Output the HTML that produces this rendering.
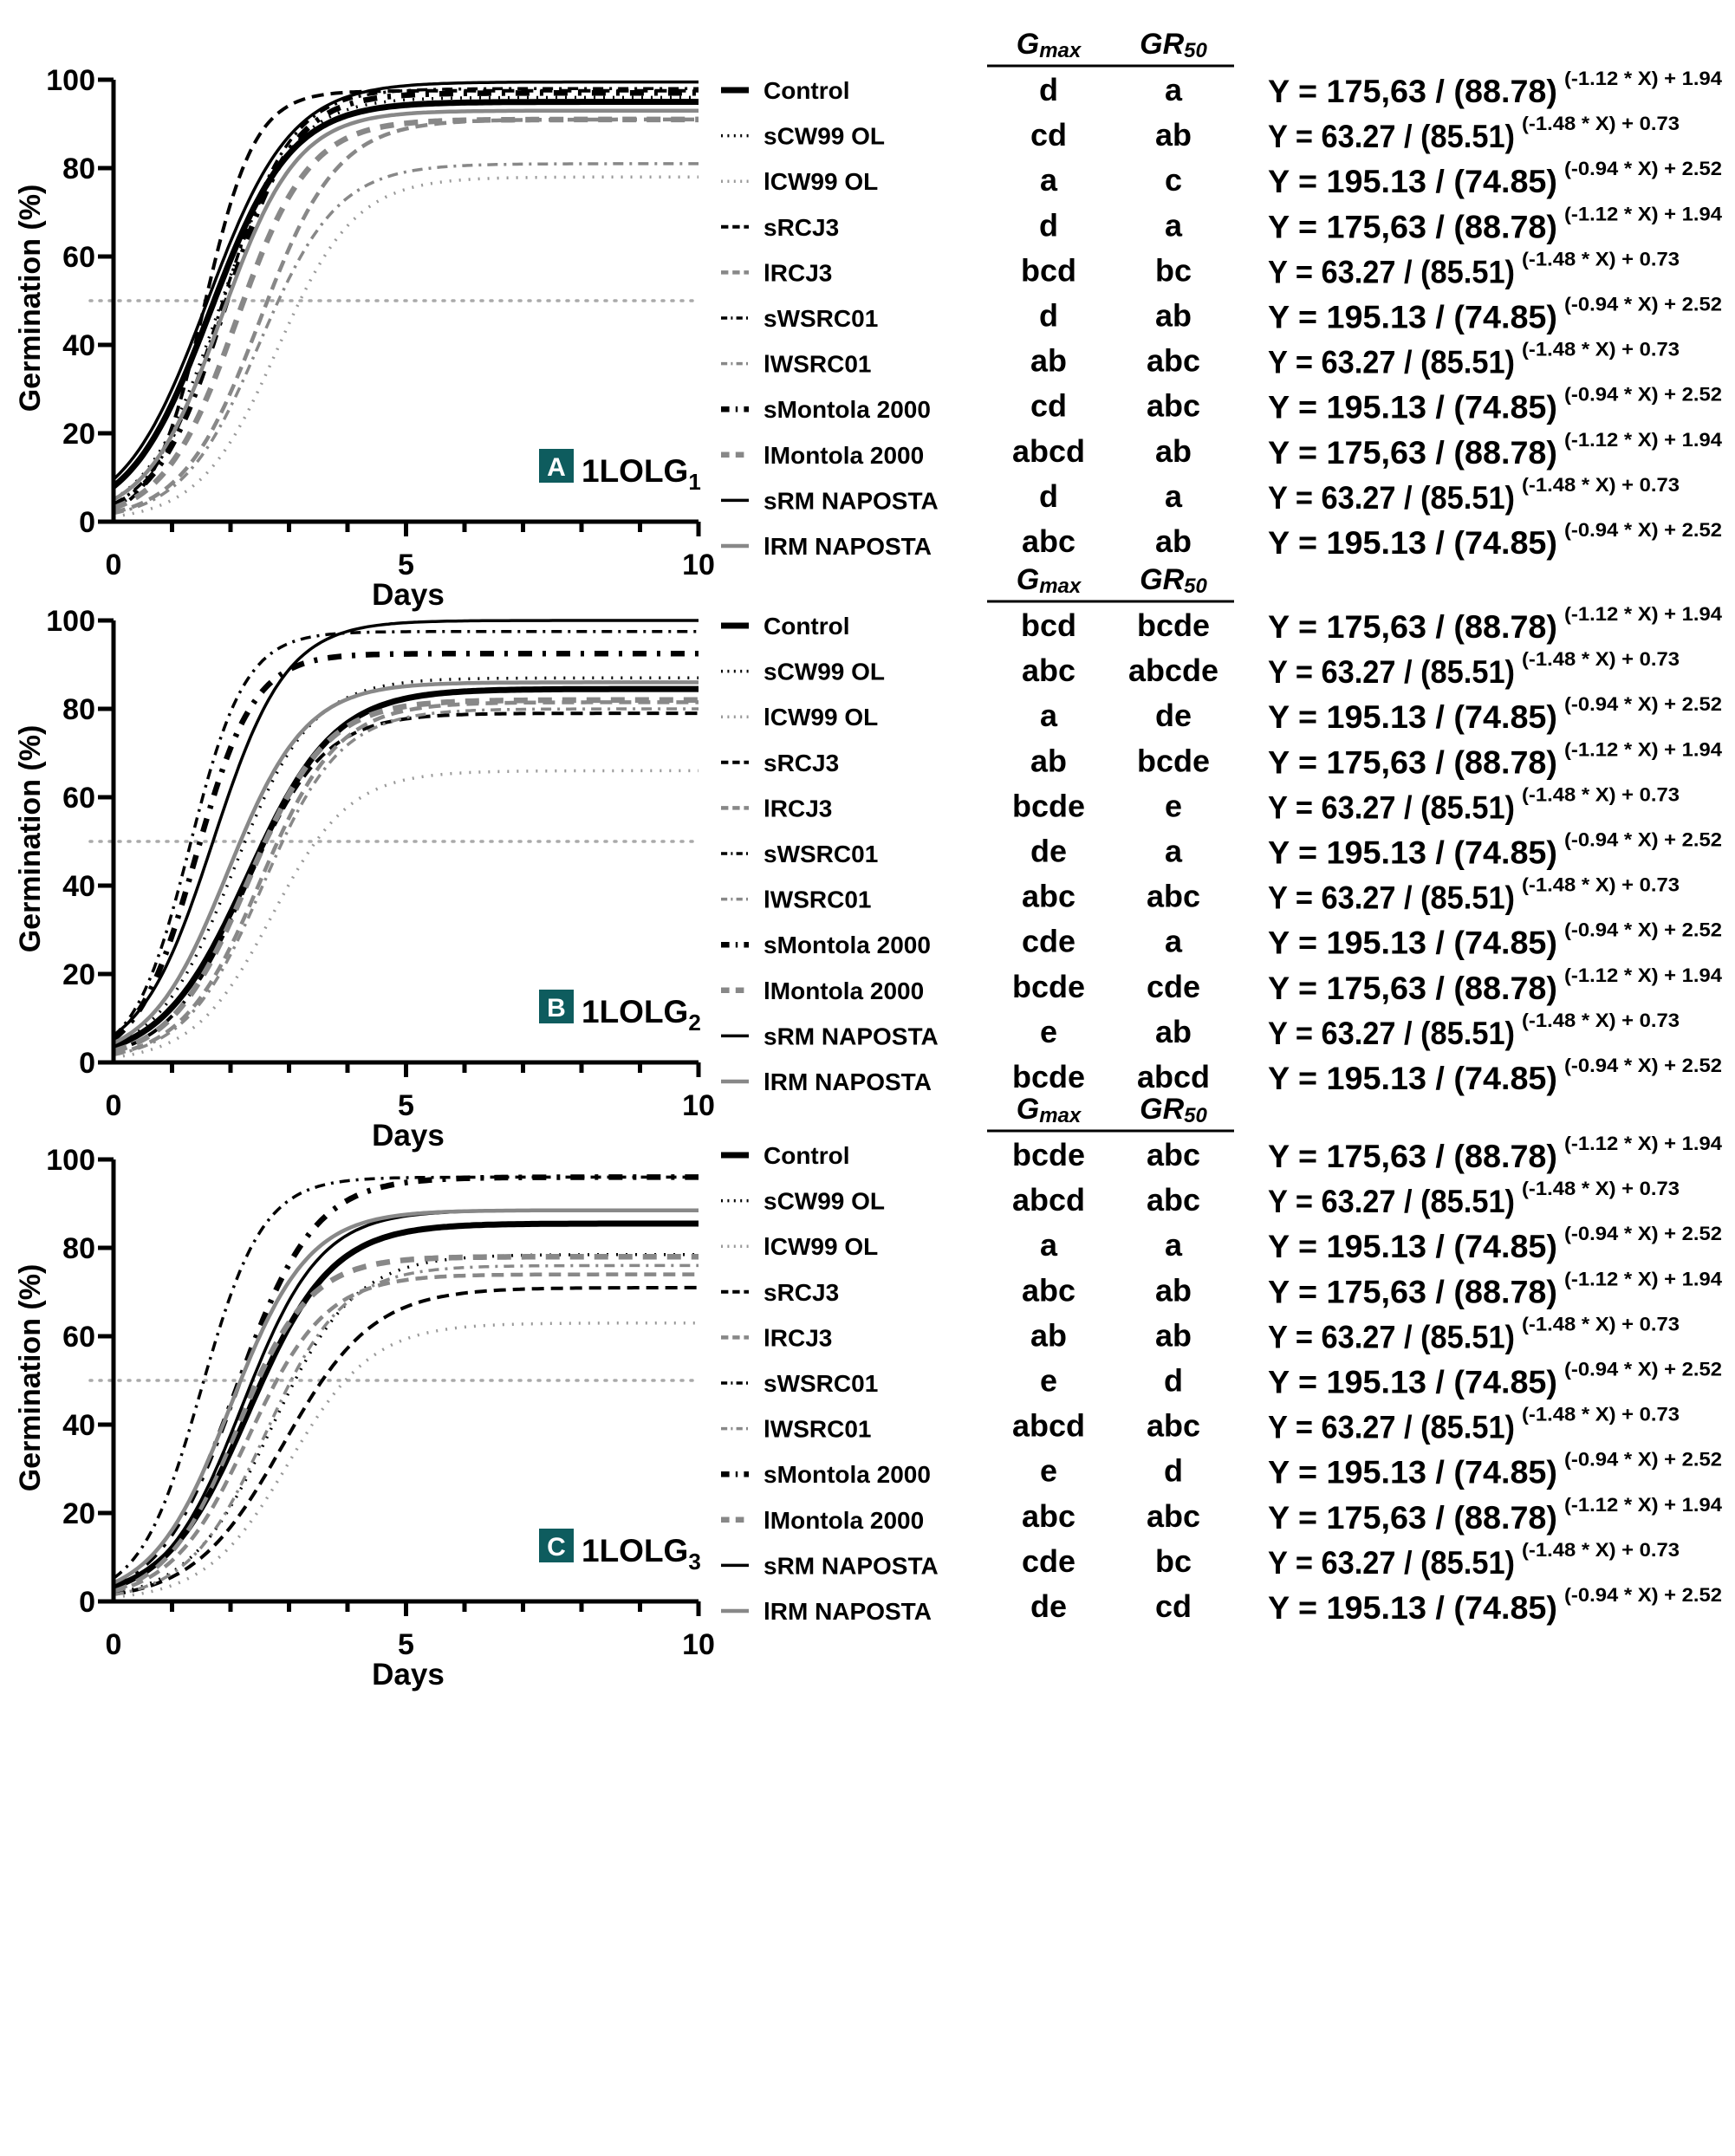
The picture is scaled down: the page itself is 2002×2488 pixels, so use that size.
<!DOCTYPE html>
<html><head><meta charset="utf-8"><style>
html,body{margin:0;padding:0;background:#fff}
svg{display:block}
text{font-family:"Liberation Sans Narrow","Liberation Sans",sans-serif;fill:#000}
</style></head><body>
<svg id="fig" width="2002" height="2488" viewBox="0 0 2002 2488" xmlns="http://www.w3.org/2000/svg"></svg>
<script>
const seriesNames = ["Control","sCW99 OL","lCW99 OL","sRCJ3","lRCJ3","sWSRC01","lWSRC01","sMontola 2000","lMontola 2000","sRM NAPOSTA","lRM NAPOSTA"];
const panelLetters = ["A","B","C"];
const panelSubs = ["1","2","3"];
const xTicks = [0,5,10];
const yTicks = [0,20,40,60,80,100];
// per-panel fitted curve parameters (Gmax %, t50 days, slope)
const gmaxA = [95,96,78,97.5,91,98,81,97,91,99.5,93];
const t50A  = [1.65,1.8,2.8,1.55,2.5,1.85,2.5,1.9,2.1,1.6,1.85];
const kA    = [1.45,1.6,1.5,2.3,1.5,1.7,1.5,1.7,1.6,1.4,1.55];
const gmaxB = [84.5,87,66,79,81.5,97.5,80,92.5,82,100,86];
const t50B  = [2.3,2.05,2.7,2.25,2.5,1.3,2.55,1.4,2.3,1.7,1.95];
const kB    = [1.35,1.5,1.5,1.5,1.5,2.1,1.5,2.0,1.5,1.6,1.5];
const gmaxC = [85.5,78.5,63,71,74,96,76,96,78,88.5,88.5];
const t50C  = [2.3,2.7,3.0,2.9,2.3,1.5,2.6,2.1,2.1,2.2,2.0];
const kC    = [1.4,1.4,1.4,1.3,1.5,1.9,1.5,1.5,1.6,1.5,1.5];
const gmaxLetA = ["d","cd","a","d","bcd","d","ab","cd","abcd","d","abc"];
const gr50LetA = ["a","ab","c","a","bc","ab","abc","abc","ab","a","ab"];
const gmaxLetB = ["bcd","abc","a","ab","bcde","de","abc","cde","bcde","e","bcde"];
const gr50LetB = ["bcde","abcde","de","bcde","e","a","abc","a","cde","ab","abcd"];
const gmaxLetC = ["bcde","abcd","a","abc","ab","e","abcd","e","abc","cde","de"];
const gr50LetC = ["abc","abc","a","ab","ab","d","abc","d","abc","bc","cd"];
const eqMain = ["Y = 175,63 / (88.78)","Y = 63.27 / (85.51)","Y = 195.13 / (74.85)"];
const eqSup = ["(-1.12 * X) + 1.94","(-1.48 * X) + 0.73","(-0.94 * X) + 2.52"];
const eqOrder = [0,1,2,0,1,2,1,2,0,1,2];

const styles = [
 {c:"#000",w:7,d:""},
 {c:"#000",w:3.5,d:"2 9"},
 {c:"#999",w:3.5,d:"2 9"},
 {c:"#000",w:4,d:"14 8"},
 {c:"#888",w:4.5,d:"14 8"},
 {c:"#000",w:3.5,d:"12 7 3 7"},
 {c:"#888",w:3.5,d:"12 7 3 7"},
 {c:"#000",w:6.5,d:"16 12 4 12"},
 {c:"#888",w:6.5,d:"16 12"},
 {c:"#000",w:3.5,d:""},
 {c:"#888",w:4.5,d:""}
];
const NS="http://www.w3.org/2000/svg";
const svg=document.getElementById("fig");
function mk(tag,attrs,parent){const e=document.createElementNS(NS,tag);for(const k in attrs)e.setAttribute(k,attrs[k]);(parent||svg).appendChild(e);return e;}

const panels=[
 {g:gmaxA,t:t50A,k:kA,gl:gmaxLetA,rl:gr50LetA,top:92,tab:104},
 {g:gmaxB,t:t50B,k:kB,gl:gmaxLetB,rl:gr50LetB,top:716,tab:722},
 {g:gmaxC,t:t50C,k:kC,gl:gmaxLetC,rl:gr50LetC,top:1338,tab:1333}
];
const X0=131,XW=675,YH=510;

panels.forEach((p,pi)=>{
 const grp=mk("g",{});
 
 
 const xs=v=>X0+v/10*XW;
 const ys=v=>p.top+YH-v/100*YH;
 const ref=mk("line",{x1:104,x2:800,y1:ys(50),y2:ys(50),stroke:"#aaa","stroke-width":3.5,"stroke-dasharray":"2 9","stroke-linecap":"round"},grp);
 
 
 p.g.forEach((gm,i)=>{
  let d="";
  for(let s=0;s<=200;s++){const x=s*0.05;const y=gm/(1+Math.exp(-p.k[i]*(x-p.t[i])));d+=(s?"L":"M")+xs(x).toFixed(1)+","+ys(y).toFixed(1);}
  const st=styles[i];
  const path=mk("path",{d:d,fill:"none",stroke:st.c,"stroke-width":st.w,"stroke-dasharray":st.d},grp);
  
  
 });
 const ax=mk("path",{d:`M${X0},${p.top}V${p.top+YH}H${X0+XW}`,fill:"none",stroke:"#000","stroke-width":5},grp);
 
 
 yTicks.forEach(v=>{
  mk("line",{x1:113,x2:X0,y1:ys(v),y2:ys(v),stroke:"#000","stroke-width":5},grp);
  const t=mk("text",{x:110,y:ys(v)+12,"text-anchor":"end","font-size":34,"font-weight":"bold"},grp);t.textContent=v;
  
  
 });
 for(let v=1;v<=10;v++){mk("line",{x1:xs(v),x2:xs(v),y1:p.top+YH,y2:p.top+YH+(v%5==0?17:12),stroke:"#000","stroke-width":5},grp);}
 xTicks.forEach(v=>{
  const t=mk("text",{x:xs(v),y:p.top+YH+61,"text-anchor":"middle","font-size":34,"font-weight":"bold"},grp);t.textContent=v;
  
  
 });
 const xt=mk("text",{x:471,y:p.top+YH+96,"text-anchor":"middle","font-size":35,"font-weight":"bold"},grp);xt.textContent="Days";
 
 
 const yt=mk("text",{x:0,y:0,"text-anchor":"middle","font-size":34,"font-weight":"bold","font-family":"Liberation Sans, sans-serif",transform:`translate(46,${p.top+252}) rotate(-90)`},grp);yt.textContent="Germination (%)";
 
 
 const bx=mk("rect",{x:622,y:p.top+426,width:40,height:39,fill:"#0e5c5e"},grp);
 
 
 const bl=mk("text",{x:642,y:p.top+457,"text-anchor":"middle","font-size":30,"font-weight":"bold",fill:"#fff",style:"fill:#fff"},grp);bl.textContent=panelLetters[pi];
 const pl=mk("text",{x:671,y:p.top+464,"font-size":37,"font-weight":"bold"},grp);
 
 
 const s1=mk("tspan",{},pl);s1.textContent="1LOLG";
 const s2=mk("tspan",{dy:9,"font-size":26},pl);s2.textContent=panelSubs[pi];
 seriesNames.forEach((n,i)=>{
  const ly=p.tab+i*52.6;
  const st=styles[i];
  const ls=mk("line",{x1:832,x2:864,y1:ly,y2:ly,stroke:st.c,"stroke-width":st.w,"stroke-dasharray":st.d?(st.d.split(" ").map(v=>Math.max(2,v*0.6)).join(" ")):""},grp);
  
  
  const lt=mk("text",{x:881,y:ly+10,"font-size":28,"font-weight":"bold"},grp);lt.textContent=n;
  
  
 });
 const hy=p.tab-42;
 [["G","max",1210],["GR","50",1354]].forEach(h=>{
  const t=mk("text",{x:h[2],y:hy,"text-anchor":"middle","font-size":34,"font-weight":"bold","font-style":"italic"},grp);
  
  
  const a=mk("tspan",{},t);a.textContent=h[0];
  const b=mk("tspan",{"font-size":24,dy:4},t);b.textContent=h[1];
 });
 const ul=mk("line",{x1:1139,x2:1424,y1:p.tab-28,y2:p.tab-28,stroke:"#000","stroke-width":3},grp);
 
 
 p.gl.forEach((g,i)=>{
  const ry=p.tab+i*52.1+12;
  const a=mk("text",{x:1210,y:ry,"text-anchor":"middle","font-size":36,"font-weight":"bold"},grp);a.textContent=g;
  
  
  const b=mk("text",{x:1354,y:ry,"text-anchor":"middle","font-size":36,"font-weight":"bold"},grp);b.textContent=p.rl[i];
  
  
  const e=eqOrder[i];
  const mw=[334,285,334][e];
  const m=mk("text",{x:1463,y:ry+2,"font-size":37,"font-weight":"bold",textLength:mw,lengthAdjust:"spacingAndGlyphs"},grp);m.textContent=eqMain[e];
  
  
  const s=mk("text",{x:1463+mw+8,y:ry-18,"font-size":22,"font-weight":"bold",textLength:182,lengthAdjust:"spacingAndGlyphs"},grp);s.textContent=eqSup[e];
  
  
 });
});
</script>
</body></html>
